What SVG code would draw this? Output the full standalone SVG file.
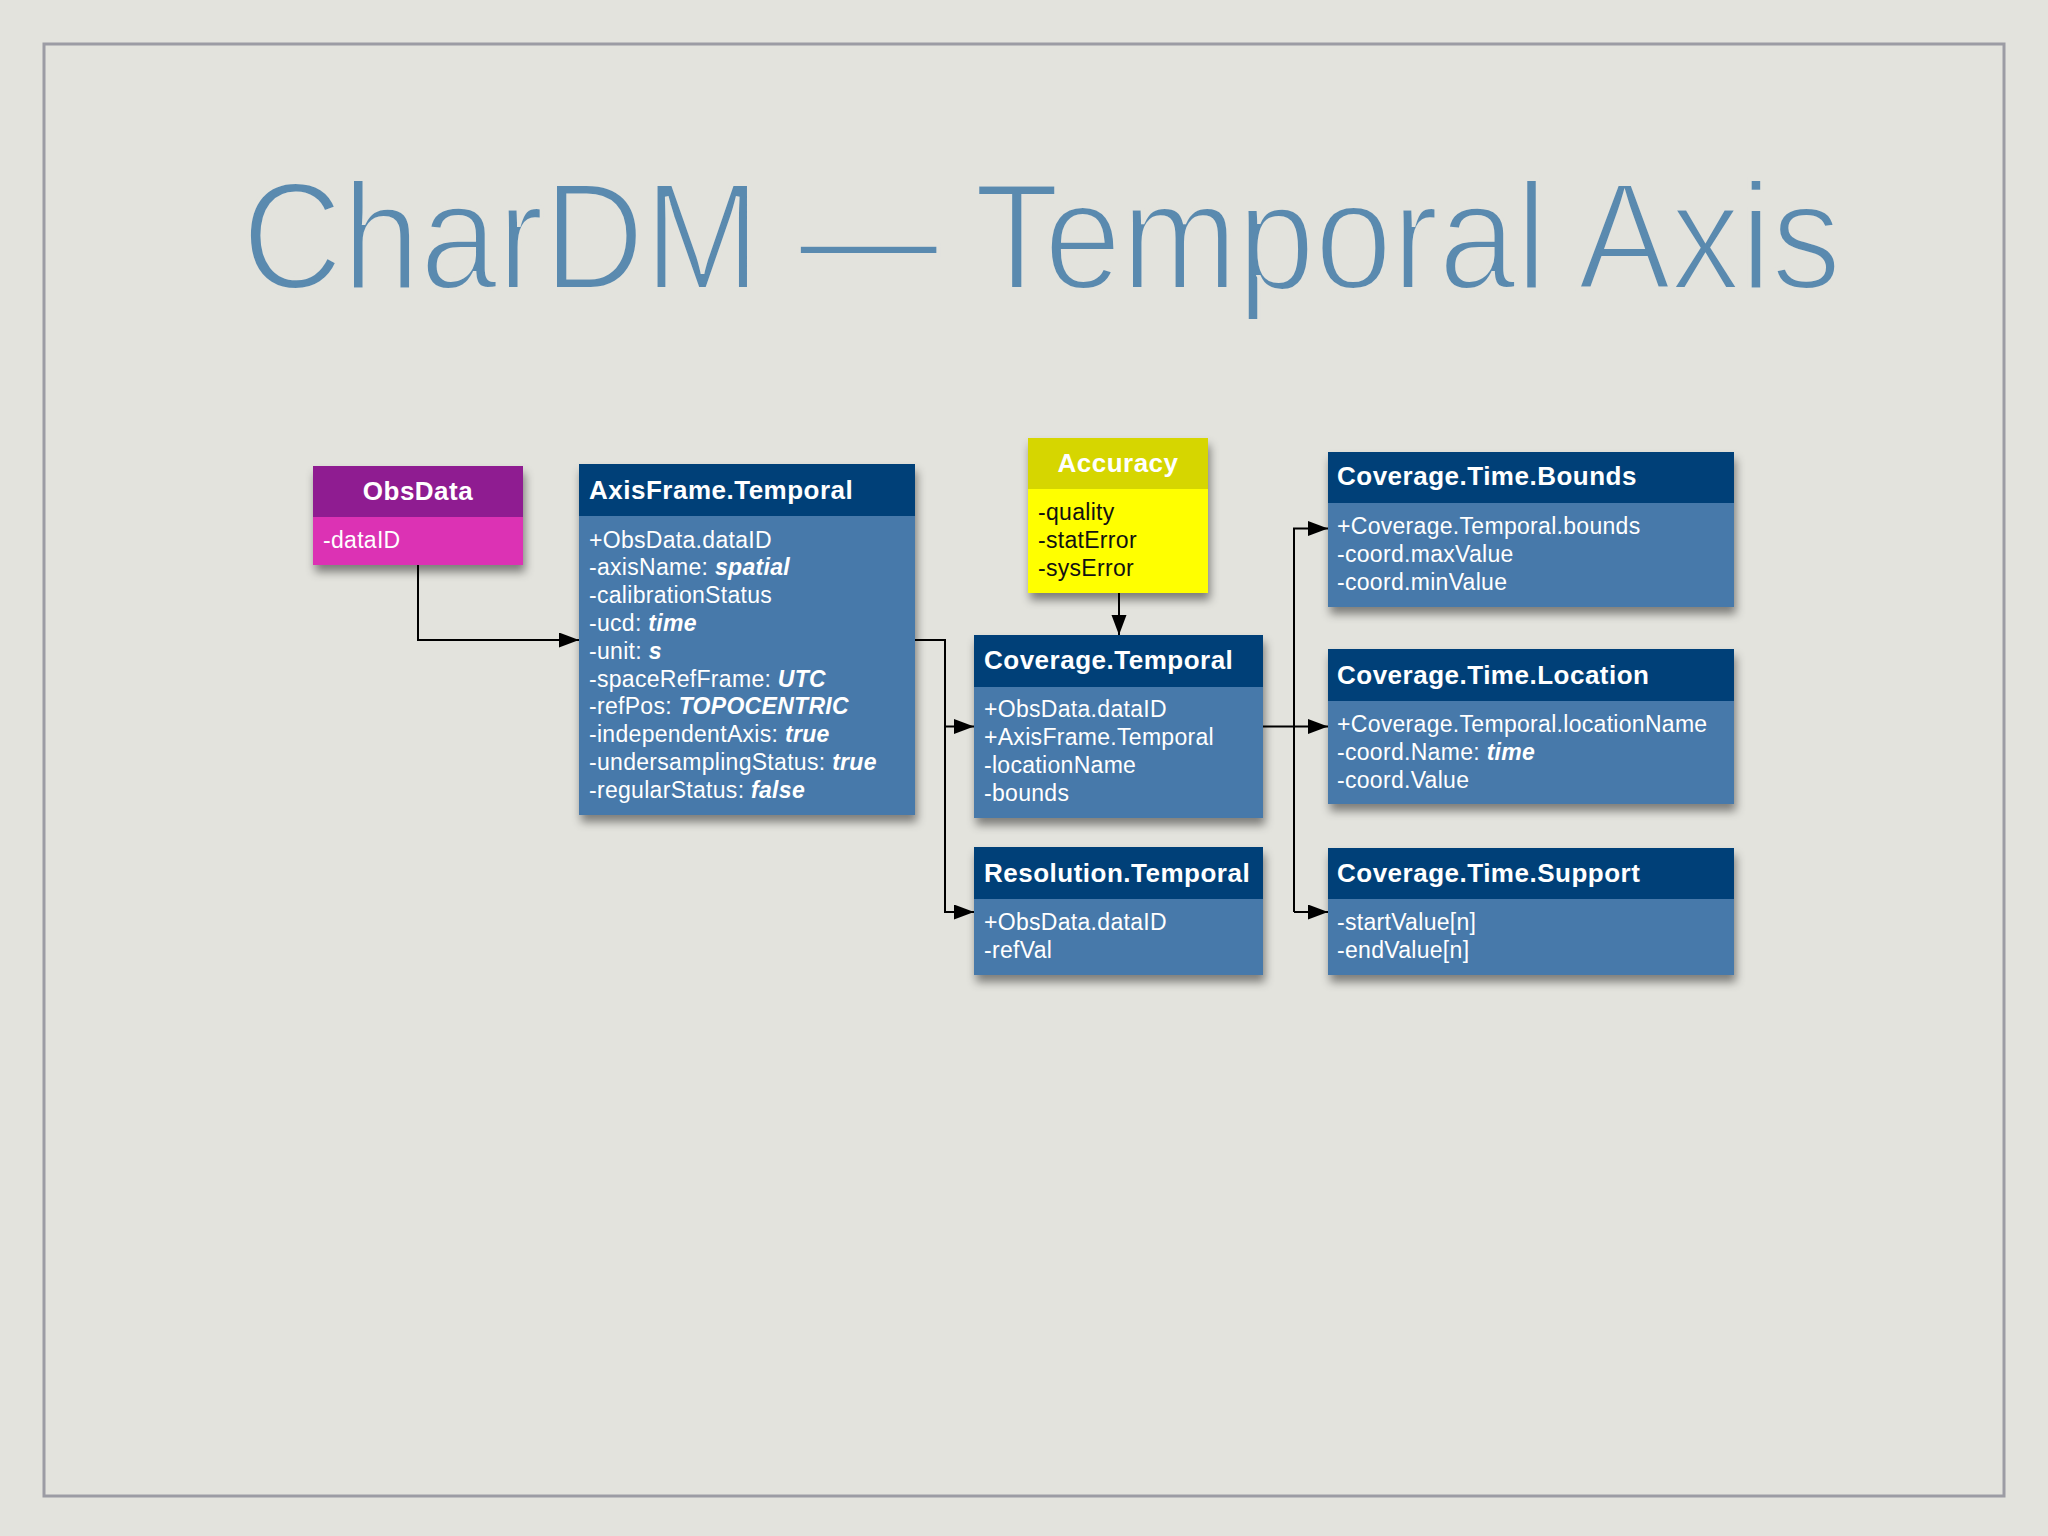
<svg xmlns="http://www.w3.org/2000/svg" width="2048" height="1536" viewBox="0 0 2048 1536">
  <defs>
    <style>
      .hdr { font-family: "Liberation Sans", Arial, sans-serif; font-size: 26px; font-weight: bold; fill: #ffffff; letter-spacing: 0.5px; }
      .body { font-family: "Liberation Sans", Arial, sans-serif; font-size: 23px; fill: #ffffff; letter-spacing: 0.3px; }
      .dark { fill: #111111; }
      .v { font-weight: bold; font-style: italic; }
      .navy { fill: #003f78; }
      .blue { fill: #4679aa; }
      .conn { fill: none; stroke: #000000; stroke-width: 2; }
    </style>
    <filter id="shadow" x="-10%" y="-10%" width="125%" height="135%">
      <feDropShadow dx="2" dy="7" stdDeviation="5" flood-color="#000000" flood-opacity="0.45"/>
    </filter>
    <marker id="arrow" markerUnits="userSpaceOnUse" markerWidth="20" markerHeight="16" refX="20" refY="7.5" orient="auto">
      <path d="M0,0 L20,7.5 L0,15 z" fill="#000000"/>
    </marker>
  </defs>

  <rect x="0" y="0" width="2048" height="1536" fill="#e3e3dd"/>
  <rect x="44" y="44" width="1960" height="1452" fill="none" stroke="#9c9ca4" stroke-width="3"/>

  <text x="242" y="289" font-family="Liberation Sans, Arial, sans-serif" font-size="152" fill="#5a8aaf" stroke="#e3e3dd" stroke-width="4" textLength="1599" lengthAdjust="spacingAndGlyphs">CharDM — Temporal Axis</text>

  <g id="connectors">
    <path class="conn" d="M418,565 V640 H579" marker-end="url(#arrow)"/>
    <path class="conn" d="M915,640 H945 V912 H974" marker-end="url(#arrow)"/>
    <path class="conn" d="M945,726.5 H974" marker-end="url(#arrow)"/>
    <path class="conn" d="M1119,593 V635" marker-end="url(#arrow)"/>
    <path class="conn" d="M1263,726.5 H1328" marker-end="url(#arrow)"/>
    <path class="conn" d="M1294,912 V528.5 H1328" marker-end="url(#arrow)"/>
    <path class="conn" d="M1294,912 H1328" marker-end="url(#arrow)"/>
  </g>

  <g id="ObsData">
    <g filter="url(#shadow)">
      <rect x="313" y="466" width="210" height="99" fill="#dc30b4"/>
      <rect x="313" y="466" width="210" height="51" fill="#8f1f91"/>
    </g>
    <text class="hdr" x="418" y="500" text-anchor="middle">ObsData</text>
    <text class="body" x="323" y="548">-dataID</text>
  </g>

  <g id="AxisFrame.Temporal">
    <g filter="url(#shadow)">
      <rect class="blue" x="579" y="464" width="336" height="351"/>
      <rect class="navy" x="579" y="464" width="336" height="52"/>
    </g>
    <text class="hdr" x="589" y="499">AxisFrame.Temporal</text>
    <text class="body" x="589" y="547.5">+ObsData.dataID</text>
    <text class="body" x="589" y="575.3">-axisName: <tspan class="v">spatial</tspan></text>
    <text class="body" x="589" y="603.1">-calibrationStatus</text>
    <text class="body" x="589" y="630.9">-ucd: <tspan class="v">time</tspan></text>
    <text class="body" x="589" y="658.7">-unit: <tspan class="v">s</tspan></text>
    <text class="body" x="589" y="686.5">-spaceRefFrame: <tspan class="v">UTC</tspan></text>
    <text class="body" x="589" y="714.3">-refPos: <tspan class="v">TOPOCENTRIC</tspan></text>
    <text class="body" x="589" y="742.1">-independentAxis: <tspan class="v">true</tspan></text>
    <text class="body" x="589" y="769.9">-undersamplingStatus: <tspan class="v">true</tspan></text>
    <text class="body" x="589" y="797.7">-regularStatus: <tspan class="v">false</tspan></text>
  </g>

  <g id="Accuracy">
    <g filter="url(#shadow)">
      <rect x="1028" y="438" width="180" height="155" fill="#ffff00"/>
      <rect x="1028" y="438" width="180" height="51" fill="#d6d600"/>
    </g>
    <text class="hdr" x="1118" y="472" text-anchor="middle">Accuracy</text>
    <text class="body dark" x="1038" y="520">-quality</text>
    <text class="body dark" x="1038" y="548">-statError</text>
    <text class="body dark" x="1038" y="576">-sysError</text>
  </g>

  <g id="Coverage.Temporal">
    <g filter="url(#shadow)">
      <rect class="blue" x="974" y="635" width="289" height="183"/>
      <rect class="navy" x="974" y="635" width="289" height="52"/>
    </g>
    <text class="hdr" x="984" y="669">Coverage.Temporal</text>
    <text class="body" x="984" y="717.3">+ObsData.dataID</text>
    <text class="body" x="984" y="745">+AxisFrame.Temporal</text>
    <text class="body" x="984" y="773">-locationName</text>
    <text class="body" x="984" y="800.7">-bounds</text>
  </g>

  <g id="Resolution.Temporal">
    <g filter="url(#shadow)">
      <rect class="blue" x="974" y="847" width="289" height="128"/>
      <rect class="navy" x="974" y="847" width="289" height="52"/>
    </g>
    <text class="hdr" x="984" y="882">Resolution.Temporal</text>
    <text class="body" x="984" y="930">+ObsData.dataID</text>
    <text class="body" x="984" y="957.5">-refVal</text>
  </g>

  <g id="Coverage.Time.Bounds">
    <g filter="url(#shadow)">
      <rect class="blue" x="1328" y="452" width="406" height="155"/>
      <rect class="navy" x="1328" y="452" width="406" height="51"/>
    </g>
    <text class="hdr" x="1337" y="485">Coverage.Time.Bounds</text>
    <text class="body" x="1337" y="534">+Coverage.Temporal.bounds</text>
    <text class="body" x="1337" y="562">-coord.maxValue</text>
    <text class="body" x="1337" y="590">-coord.minValue</text>
  </g>

  <g id="Coverage.Time.Location">
    <g filter="url(#shadow)">
      <rect class="blue" x="1328" y="649" width="406" height="155"/>
      <rect class="navy" x="1328" y="649" width="406" height="52"/>
    </g>
    <text class="hdr" x="1337" y="683.5">Coverage.Time.Location</text>
    <text class="body" x="1337" y="732">+Coverage.Temporal.locationName</text>
    <text class="body" x="1337" y="760">-coord.Name: <tspan class="v">time</tspan></text>
    <text class="body" x="1337" y="787.5">-coord.Value</text>
  </g>

  <g id="Coverage.Time.Support">
    <g filter="url(#shadow)">
      <rect class="blue" x="1328" y="848" width="406" height="127"/>
      <rect class="navy" x="1328" y="848" width="406" height="51"/>
    </g>
    <text class="hdr" x="1337" y="882">Coverage.Time.Support</text>
    <text class="body" x="1337" y="930">-startValue[n]</text>
    <text class="body" x="1337" y="958">-endValue[n]</text>
  </g>
</svg>
